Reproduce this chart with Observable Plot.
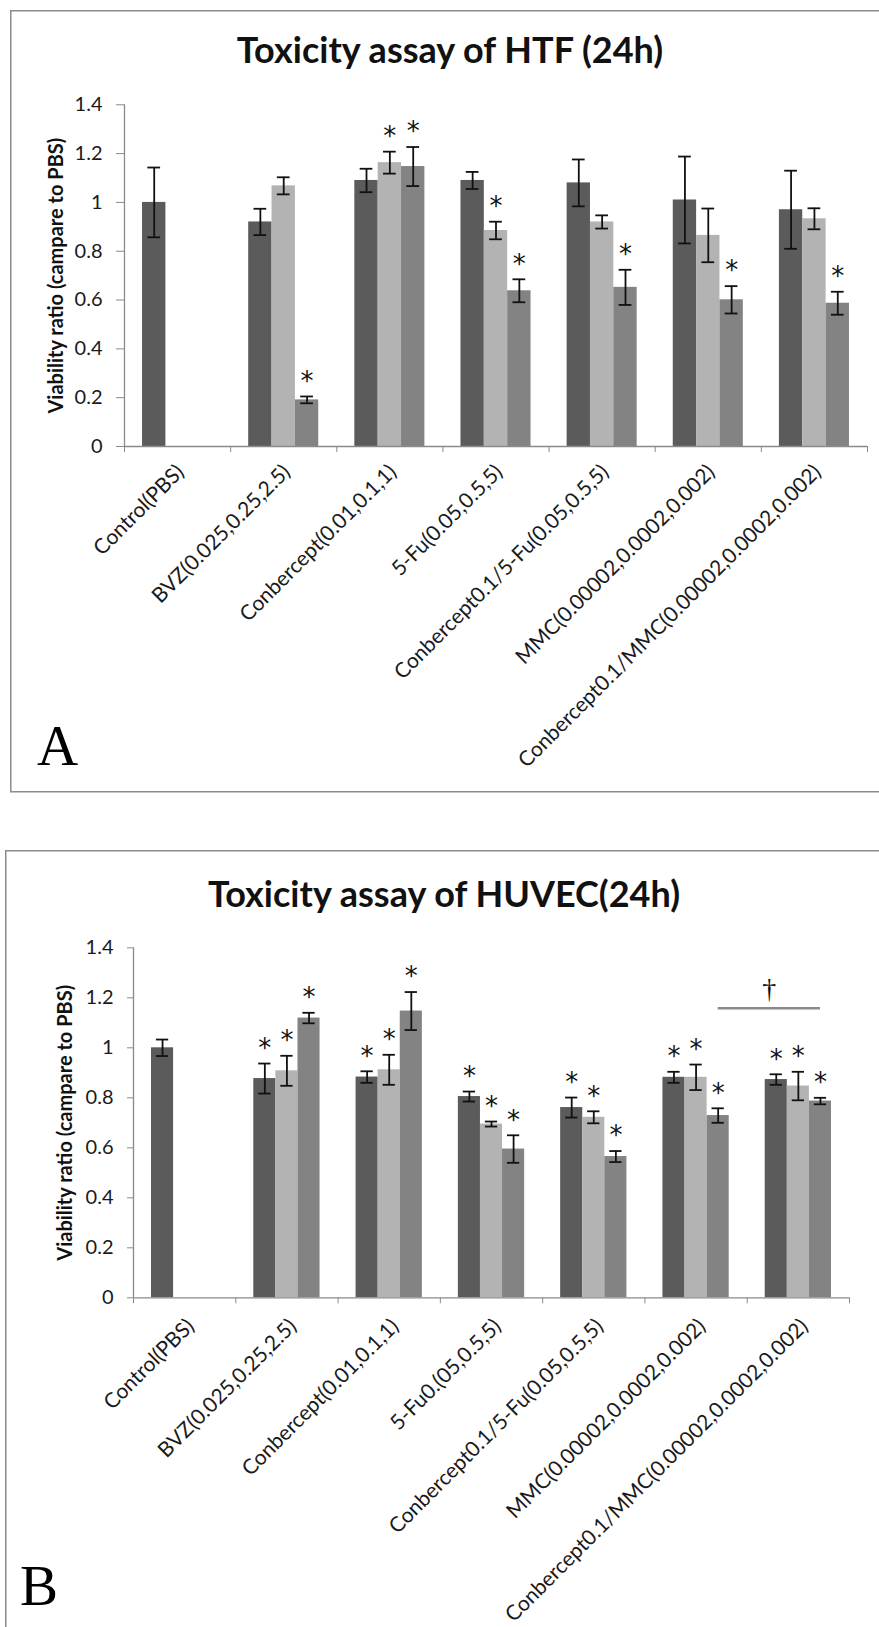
<!DOCTYPE html>
<html>
<head>
<meta charset="utf-8">
<script src="https://cdn.jsdelivr.net/npm/d3@7"></script>
<script src="https://cdn.jsdelivr.net/npm/@observablehq/plot@0.6"></script>
<style>
  html, body { margin: 0; padding: 0; background: #fff; overflow: hidden; }
  #page { position: relative; width: 879px; height: 1627px; overflow: hidden; background: #fff; }
  .chart { position: absolute; left: 0; z-index: 1; }
  #deco { position: absolute; left: 0; top: 0; z-index: 2; pointer-events: none; }
</style>
</head>
<body>
<div id="page">
  <div id="chartA" class="chart" style="top:80px"></div>
  <div id="chartB" class="chart" style="top:920px"></div>
  <svg id="deco" width="879" height="1627">
    <rect x="10.75" y="10.75" width="900" height="781" fill="none" stroke="#8c8c8c" stroke-width="1.5"></rect>
    <rect x="5.75" y="850.75" width="900" height="900" fill="none" stroke="#8c8c8c" stroke-width="1.5"></rect>
    <text id="titleA" x="450" y="63" text-anchor="middle" font-family="Lato, sans-serif" font-weight="bold" font-size="36" fill="#111"></text>
    <text id="titleB" x="444" y="907" text-anchor="middle" font-family="Lato, sans-serif" font-weight="bold" font-size="36" fill="#111"></text>
    <text id="letterA" x="37" y="765" font-family="'Liberation Serif', serif" font-size="57" fill="#000"></text>
    <text id="letterB" x="20" y="1605" font-family="'Liberation Serif', serif" font-size="57" fill="#000"></text>
  </svg>
</div>
<script>
// ---------- shared ----------
const titleA = "Toxicity assay of HTF (24h)";
const titleB = "Toxicity assay of HUVEC(24h)";
const panelLetters = ["A", "B"];
const yLabel = "Viability ratio (campare to PBS)";
const yTicks = [0, 0.2, 0.4, 0.6, 0.8, 1, 1.2, 1.4];
const yTickLabels = ["0", "0.2", "0.4", "0.6", "0.8", "1", "1.2", "1.4"];
const seriesNames = ["dose 1", "dose 2", "dose 3"];
const seriesColors = ["#5b5b5b", "#b3b3b3", "#838383"];

// ---------- panel A : HTF ----------
const categoriesA = ["Control(PBS)", "BVZ(0.025,0.25,2.5)", "Conbercept(0.01,0.1,1)", "5-Fu(0.05,0.5,5)",
  "Conbercept0.1/5-Fu(0.05,0.5,5)", "MMC(0.00002,0.0002,0.002)", "Conbercept0.1/MMC(0.00002,0.0002,0.002)"];
const htfDose1 = [1.00, 0.92, 1.09, 1.09, 1.08, 1.01, 0.97];
const htfDose1Err = [0.143, 0.054, 0.048, 0.035, 0.096, 0.178, 0.16];
const htfDose2 = [null, 1.068, 1.163, 0.885, 0.92, 0.865, 0.933];
const htfDose2Err = [null, 0.035, 0.045, 0.036, 0.027, 0.11, 0.043];
const htfDose3 = [null, 0.191, 1.147, 0.638, 0.652, 0.601, 0.587];
const htfDose3Err = [null, 0.014, 0.08, 0.047, 0.072, 0.056, 0.047];
const htfDose1Sig = [false, false, false, false, false, false, false];
const htfDose2Sig = [false, false, true, true, false, false, false];
const htfDose3Sig = [false, true, true, true, true, true, true];

// ---------- panel B : HUVEC ----------
const categoriesB = ["Control(PBS)", "BVZ(0.025,0.25,2.5)", "Conbercept(0.01,0.1,1)", "5-Fu0.(05,0.5,5)",
  "Conbercept0.1/5-Fu(0.05,0.5,5)", "MMC(0.00002,0.0002,0.002)", "Conbercept0.1/MMC(0.00002,0.0002,0.002)"];
const huvecDose1 = [1.00, 0.877, 0.883, 0.805, 0.761, 0.882, 0.873];
const huvecDose1Err = [0.033, 0.06, 0.023, 0.02, 0.04, 0.022, 0.021];
const huvecDose2 = [null, 0.908, 0.912, 0.695, 0.722, 0.882, 0.847];
const huvecDose2Err = [null, 0.06, 0.06, 0.01, 0.024, 0.051, 0.057];
const huvecDose3 = [null, 1.119, 1.147, 0.595, 0.565, 0.729, 0.787];
const huvecDose3Err = [null, 0.021, 0.076, 0.055, 0.022, 0.029, 0.013];
const huvecDose1Sig = [false, true, true, true, true, true, true];
const huvecDose2Sig = [false, true, true, true, true, true, true];
const huvecDose3Sig = [false, true, true, true, true, true, true];
// significance bracket (†) between the two highest MMC doses
const huvecBracketFrom = "MMC(0.00002,0.0002,0.002)";
const huvecBracketTo = "Conbercept0.1/MMC(0.00002,0.0002,0.002)";
const huvecBracketDose = "dose 3";
const huvecBracketY = 1.158;
const huvecBracketMark = "\u2020";

const axisGray = "#8a8a8a";
const labelFont = "Lato, sans-serif";

function panel(cfg) {
  const {cats, vals, errs, sigs, barW, height, marginLeft, marginRight, marginTop, marginBottom,
         tickSize, labelPadding, labelDx, labelOffset, bracket} = cfg;
  const rows = [];
  vals.forEach((arr, si) => arr.forEach((v, i) => {
    if (v == null) return;
    rows.push({cat: cats[i], i, si, series: seriesNames[si], v, e: errs[si][i], sig: sigs[si][i]});
  }));
  const x1 = d => d.i - 1.5 * barW + d.si * barW;
  const xc = d => x1(d) + barW / 2;
  const capHalf = 0.06;
  const caps = rows.flatMap(d => [{x: xc(d), y: d.v - d.e}, {x: xc(d), y: d.v + d.e}]);
  const boundaries = cats.map((_, i) => i - 0.5).concat([cats.length - 0.5]);
  const marks = [
    Plot.rect(rows, {x1: x1, x2: d => x1(d) + barW, y1: 0, y2: "v", fill: "series"}),
    Plot.ruleX(rows, {x: xc, y1: d => d.v - d.e, y2: d => d.v + d.e, stroke: "#111", strokeWidth: 1.8}),
    Plot.ruleY(caps, {y: "y", x1: d => d.x - capHalf, x2: d => d.x + capHalf, stroke: "#111", strokeWidth: 1.8}),
    Plot.text(rows.filter(d => d.sig), {x: xc, y: d => d.v + d.e, text: () => "*", dy: -15,
      fontSize: 26, fontFamily: "'DejaVu Sans', sans-serif", fill: "#111"}),
    Plot.ruleY([0], {stroke: axisGray, strokeWidth: 1.3}),
    Plot.ruleX([-0.5], {stroke: axisGray, strokeWidth: 1.3}),
    Plot.axisY(yTicks, {tickFormat: d => yTickLabels[yTicks.indexOf(d)], tickSize, tickPadding: 14,
      stroke: axisGray, fill: "#1a1a1a", fontSize: 20, fontFamily: labelFont, label: null}),
    Plot.axisY([], {label: yLabel, labelAnchor: "center", labelOffset, labelArrow: "none",
      fontFamily: labelFont, fontWeight: "bold", fontSize: 20, fill: "#111", tickSize: 0}),
    Plot.axisX(boundaries, {tickSize: 6, stroke: axisGray, fill: "none", label: null}),
    Plot.axisX(cats.map((_, i) => i), {tickFormat: i => cats[i], tickSize: 0, tickPadding: labelPadding,
      tickRotate: -45, dx: labelDx, fill: "#1a1a1a", fontSize: 21, fontFamily: labelFont, label: null})
  ];
  if (bracket) {
    const si = seriesNames.indexOf(bracket.dose);
    const a = {i: cats.indexOf(bracket.from), si}, b = {i: cats.indexOf(bracket.to), si};
    const seg = [{xa: xc(a), xb: xc(b), y: bracket.y, t: bracket.mark}];
    marks.push(Plot.ruleY(seg, {y: "y", x1: "xa", x2: "xb", stroke: axisGray, strokeWidth: 2.5}));
    marks.push(Plot.text(seg, {x: d => (d.xa + d.xb) / 2, y: "y", text: "t", dy: -19,
      fontSize: 28, fontFamily: "'Liberation Serif', serif", fill: "#111"}));
  }
  return Plot.plot({
    width: 879, height, marginLeft, marginRight, marginTop, marginBottom,
    style: {background: "transparent", overflow: "visible"},
    x: {domain: [-0.5, cats.length - 0.5], axis: null},
    y: {domain: [0, 1.4], axis: null},
    color: {domain: seriesNames, range: seriesColors},
    marks
  });
}

document.getElementById("titleA").textContent = titleA;
document.getElementById("titleB").textContent = titleB;
document.getElementById("letterA").textContent = panelLetters[0];
document.getElementById("letterB").textContent = panelLetters[1];

document.getElementById("chartA").append(panel({
  cats: categoriesA,
  vals: [htfDose1, htfDose2, htfDose3],
  errs: [htfDose1Err, htfDose2Err, htfDose3Err],
  sigs: [htfDose1Sig, htfDose2Sig, htfDose3Sig],
  barW: 0.22, height: 700, marginLeft: 124, marginRight: 12, marginTop: 24.3, marginBottom: 334,
  tickSize: 8, labelPadding: 22, labelDx: 3, labelOffset: 76
}));

document.getElementById("chartB").append(panel({
  cats: categoriesB,
  vals: [huvecDose1, huvecDose2, huvecDose3],
  errs: [huvecDose1Err, huvecDose2Err, huvecDose3Err],
  sigs: [huvecDose1Sig, huvecDose2Sig, huvecDose3Sig],
  barW: 0.216, height: 700, marginLeft: 133, marginRight: 30, marginTop: 27.3, marginBottom: 322.7,
  tickSize: 6, labelPadding: 25, labelDx: 6, labelOffset: 76,
  bracket: {from: huvecBracketFrom, to: huvecBracketTo, dose: huvecBracketDose, y: huvecBracketY, mark: huvecBracketMark}
}));
</script>
</body>
</html>
